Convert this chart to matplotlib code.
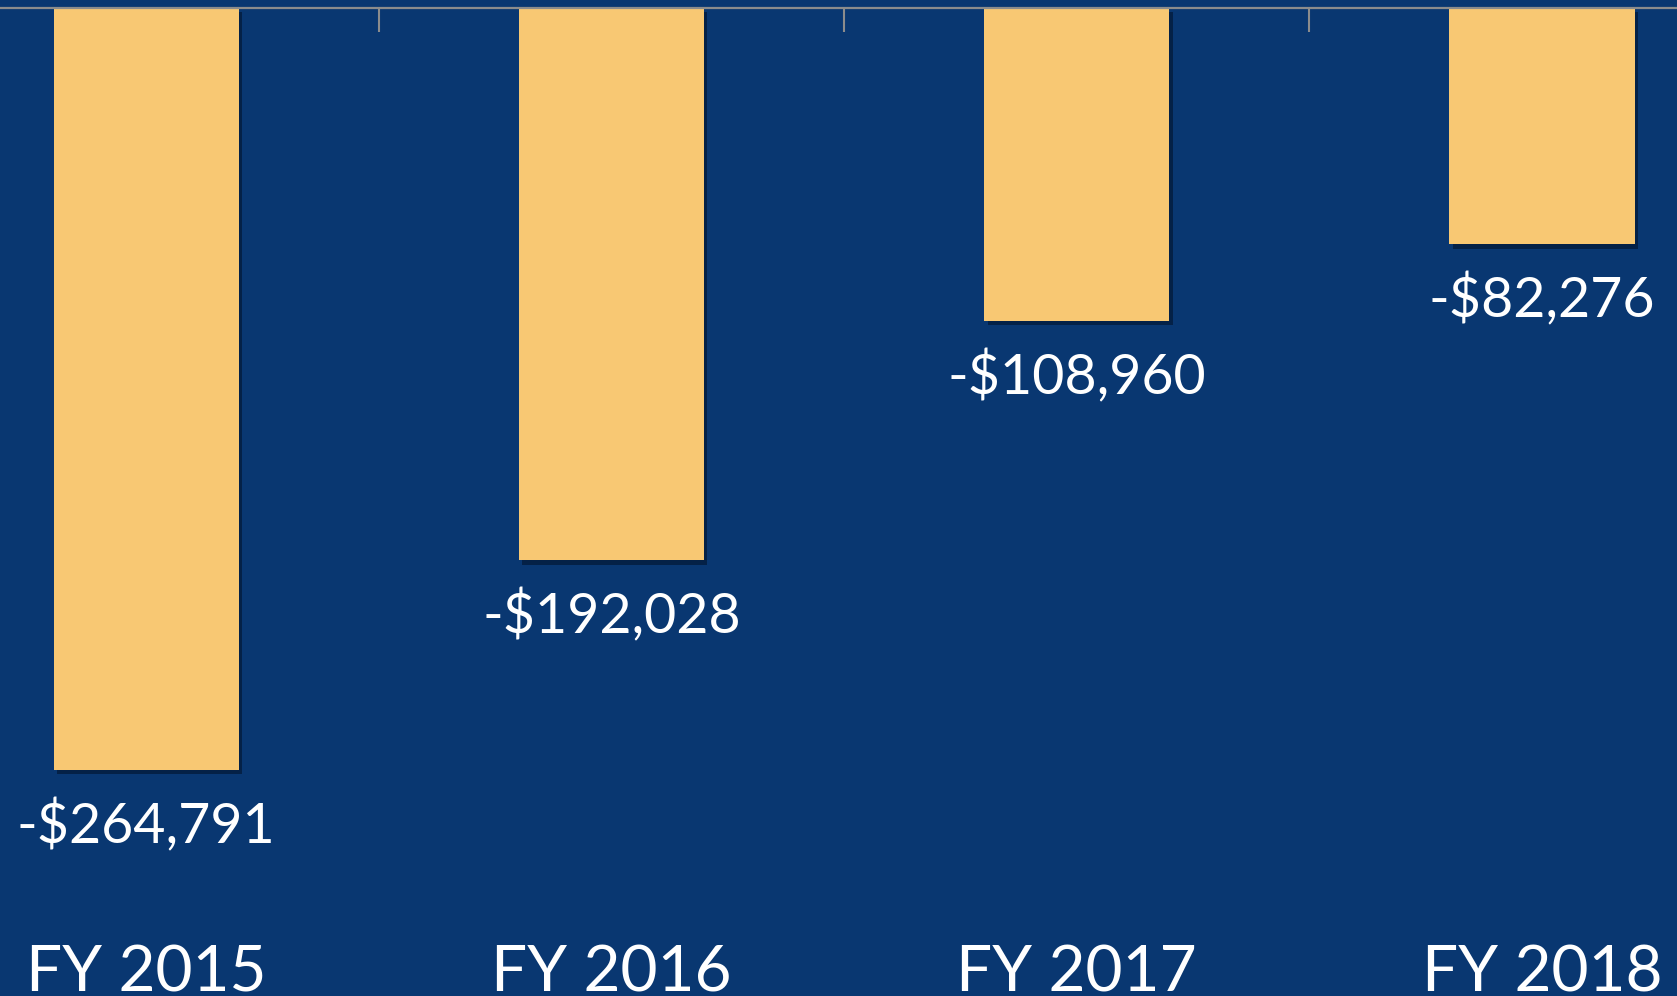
import matplotlib
matplotlib.use("Agg")
import matplotlib.pyplot as plt
import matplotlib.patheffects as pe
from matplotlib.transforms import blended_transform_factory

categories = ["FY 2015", "FY 2016", "FY 2017", "FY 2018"]
values = [-264791, -192028, -108960, -82276]
value_labels = ["-$264,791", "-$192,028", "-$108,960", "-$82,276"]

BG = "#093771"
BAR = "#F8C873"
AXIS = "#8C8C8C"

plt.rcParams['font.family'] = ['Lato', 'DejaVu Sans']

fig = plt.figure(figsize=(16.77, 9.96), dpi=100, facecolor=BG)
ax = fig.add_axes([0, 0, 1, 1])
ax.set_facecolor(BG)

x = list(range(len(categories)))
bars = ax.bar(x, values, width=0.398, color=BAR, zorder=3,
              path_effects=[pe.SimplePatchShadow(offset=(2.5, -3), shadow_rgbFace='#000814', alpha=0.45),
                            pe.Normal()])

for xi, v, lab in zip(x, values, value_labels):
    ax.annotate(lab, xy=(xi, v), xytext=(0, -21), textcoords='offset points',
                ha='center', va='top', color='white', fontsize=40, zorder=4)

trans = blended_transform_factory(ax.transData, ax.transAxes)
for xi, c in zip(x, categories):
    ax.text(xi, 0.005, c, transform=trans, ha='center', va='baseline',
            color='white', fontsize=46)

ax.set_xlim(-0.314, 3.290)
ax.set_ylim(-343280, 2605)

for s in ['top', 'left', 'right']:
    ax.spines[s].set_visible(False)
ax.spines['bottom'].set_position(('data', 0))
ax.spines['bottom'].set_color(AXIS)
ax.spines['bottom'].set_linewidth(1.6)
ax.spines['bottom'].set_zorder(5)
ax.set_xticks([0.5, 1.5, 2.5])
ax.set_xticklabels([])
ax.tick_params(axis='x', direction='out', length=17, width=1.5, color=AXIS)
ax.set_yticks([])

fig.savefig("out.png", dpi=100, facecolor=BG)
